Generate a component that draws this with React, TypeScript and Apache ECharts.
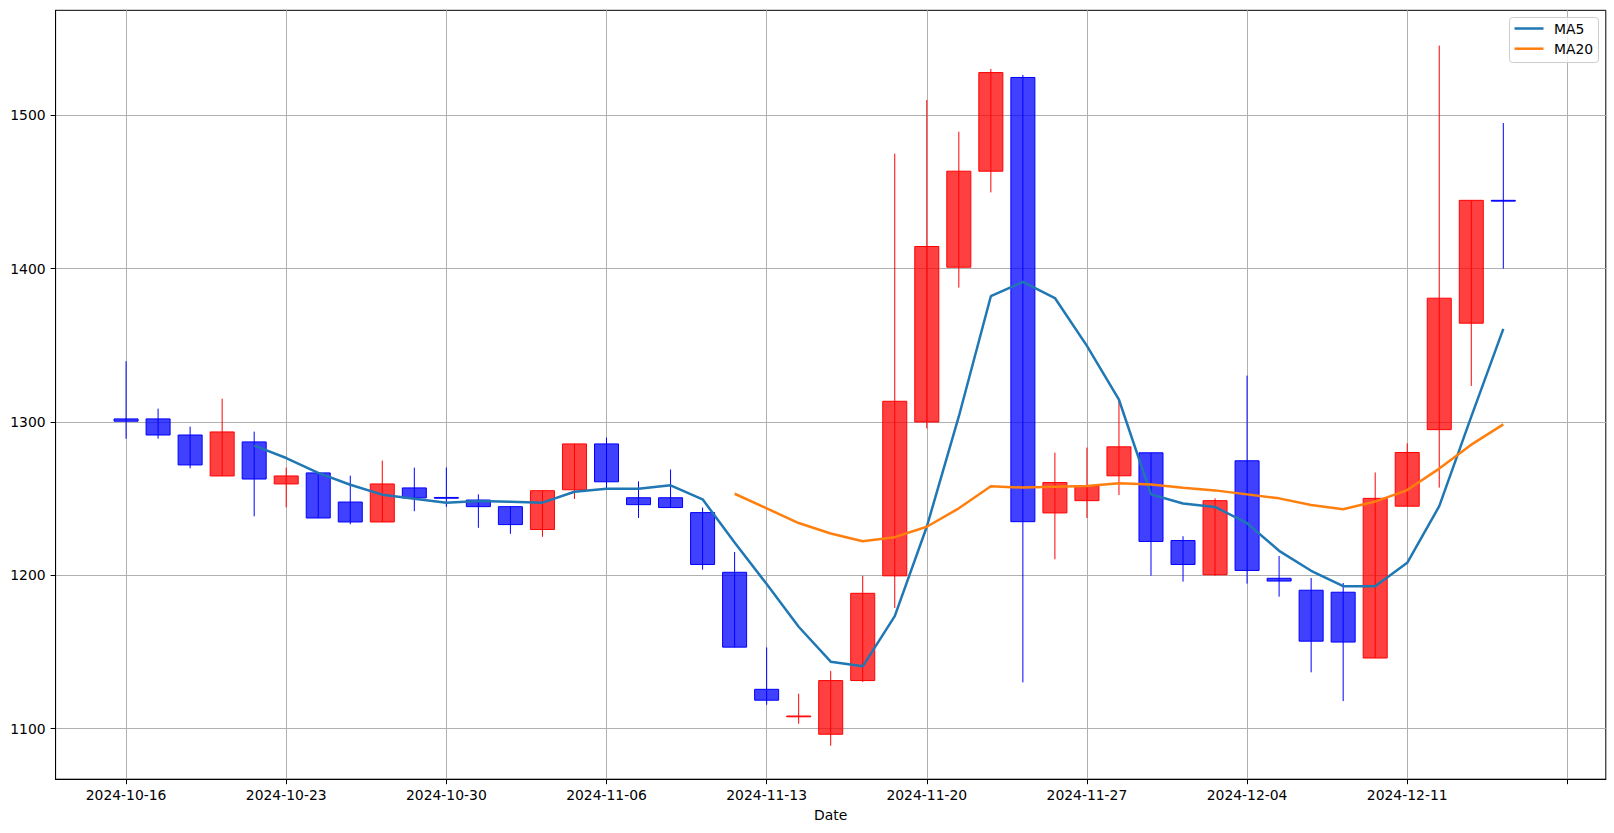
import React, { useEffect, useRef } from "react";
import * as echarts from "echarts";

const dates = [
  "2024-10-16", "2024-10-17", "2024-10-18", "2024-10-21", "2024-10-22",
  "2024-10-23", "2024-10-24", "2024-10-25", "2024-10-28", "2024-10-29",
  "2024-10-30", "2024-10-31", "2024-11-01", "2024-11-04", "2024-11-05",
  "2024-11-06", "2024-11-07", "2024-11-08", "2024-11-11", "2024-11-12",
  "2024-11-13", "2024-11-14", "2024-11-15", "2024-11-18", "2024-11-19",
  "2024-11-20", "2024-11-21", "2024-11-22", "2024-11-25", "2024-11-26",
  "2024-11-27", "2024-11-28", "2024-11-29", "2024-12-02", "2024-12-03",
  "2024-12-04", "2024-12-05", "2024-12-06", "2024-12-09", "2024-12-10",
  "2024-12-11", "2024-12-12", "2024-12-13", "2024-12-16",
];

const opens = [
  1302.0, 1302.0, 1291.5, 1264.8, 1287.0, 1259.6, 1266.8, 1247.8, 1234.8, 1257.0,
  1250.8, 1249.1, 1244.8, 1229.9, 1255.8, 1285.7, 1250.6, 1250.6, 1240.9, 1202.0,
  1125.7, 1107.9, 1096.4, 1131.4, 1199.7, 1300.0, 1400.9, 1463.5, 1524.6, 1240.7,
  1248.7, 1264.9, 1279.9, 1222.7, 1200.4, 1274.7, 1198.1, 1190.3, 1189.0, 1146.1,
  1245.1, 1295.0, 1364.4, 1444.5,
];
const closes = [
  1300.5, 1291.5, 1272.0, 1293.5, 1262.8, 1264.8, 1237.4, 1234.8, 1259.6, 1250.5,
  1250.4, 1244.8, 1233.1, 1255.2, 1285.7, 1261.0, 1246.1, 1244.2, 1207.1, 1153.2,
  1118.6, 1108.3, 1131.4, 1188.3, 1313.5, 1414.4, 1463.5, 1527.8, 1235.0, 1260.5,
  1258.2, 1283.8, 1222.1, 1207.1, 1248.7, 1203.2, 1196.3, 1157.1, 1156.5, 1250.2,
  1280.1, 1380.7, 1444.5, 1444.2,
];
const highs = [
  1339.6, 1308.7, 1297.0, 1315.2, 1293.7, 1270.2, 1266.8, 1265.0, 1274.8, 1270.2,
  1270.3, 1252.8, 1244.8, 1255.2, 1285.7, 1289.8, 1261.3, 1269.0, 1244.2, 1215.2,
  1153.0, 1122.8, 1137.7, 1199.7, 1474.9, 1509.9, 1489.2, 1530.2, 1526.3, 1280.0,
  1283.3, 1313.6, 1279.9, 1225.5, 1250.2, 1330.2, 1212.6, 1198.3, 1195.0, 1267.1,
  1286.0, 1545.4, 1444.5, 1494.9,
];
const lows = [
  1289.1, 1289.1, 1269.8, 1264.8, 1238.5, 1244.4, 1237.4, 1233.3, 1234.8, 1241.8,
  1244.6, 1231.0, 1227.1, 1225.1, 1249.8, 1255.8, 1237.4, 1244.2, 1203.7, 1153.2,
  1115.6, 1103.3, 1088.9, 1130.5, 1178.7, 1295.8, 1387.6, 1449.7, 1130.2, 1210.5,
  1237.4, 1252.4, 1199.8, 1195.9, 1199.8, 1194.6, 1186.1, 1136.8, 1118.0, 1146.1,
  1245.1, 1257.2, 1323.5, 1400.0,
];

const ma5 = [
  null, null, null, null, 1284.6, 1276.5, 1266.8, 1259.1, 1252.6, 1250.0,
  1247.4, 1248.5, 1248.0, 1247.4, 1254.5, 1256.5, 1256.5, 1258.7, 1249.6, 1221.4,
  1194.3, 1166.5, 1143.7, 1140.7, 1173.4, 1231.7, 1303.6, 1382.0, 1391.3, 1380.8,
  1349.6, 1314.5, 1252.8, 1246.8, 1244.6, 1234.0, 1216.0, 1203.0, 1192.9, 1192.9,
  1208.2, 1245.1, 1303.5, 1360.7,
];
const ma20 = [
  null, null, null, null, null, null, null, null, null, null,
  null, null, null, null, null, null, null, null, null, 1253.2,
  1243.7, 1234.1, 1227.3, 1222.2, 1224.9, 1231.7, 1243.7, 1258.1, 1257.2, 1257.8,
  1258.2, 1260.0, 1259.3, 1257.1, 1255.4, 1252.8, 1250.2, 1245.9, 1243.1, 1248.1,
  1255.6, 1269.6, 1285.2, 1298.4,
];

const xTickIndexes = [0, 5, 10, 15, 20, 25, 30, 35, 40, 45];
const yTickValues = [1100, 1200, 1300, 1400, 1500];

const FONT = "DejaVu Sans";

export default function App() {
  const ref = useRef<HTMLDivElement>(null);
  useEffect(() => {
    if (!ref.current) return;
    const chart = echarts.init(ref.current, null, { renderer: "svg" });
    const candleData = dates.map((_, i) => [i, opens[i], closes[i], lows[i], highs[i]]);
    const ma5Data = ma5.map((v, i) => [i, v]).filter((p) => p[1] != null);
    const ma20Data = ma20.map((v, i) => [i, v]).filter((p) => p[1] != null);

    chart.setOption({
      animation: false,
      backgroundColor: "#ffffff",
      grid: {
        left: 55.6,
        right: 8.2,
        top: 10.3,
        bottom: 53.8,
        containLabel: false,
        outerBoundsMode: "none",
        show: true,
        borderColor: "#000000",
        borderWidth: 1,
      },
      xAxis: {
        type: "value",
        min: -2.2,
        max: 46.2,
        name: "Date",
        nameLocation: "middle",
        nameGap: 29,
        nameTextStyle: { color: "#000", fontSize: 13.9, fontFamily: FONT },
        axisLine: { show: true, onZero: false, lineStyle: { color: "#000", width: 1 } },
        axisTick: {
          show: true,
          customValues: xTickIndexes,
          length: 5,
          inside: false,
          lineStyle: { color: "#000", width: 1 },
        },
        axisLabel: {
          customValues: xTickIndexes,
          formatter: (v: number) => dates[Math.round(v)] ?? "",
          color: "#000",
          fontSize: 13.9,
          fontFamily: FONT,
          margin: 9,
        },
        splitLine: { show: true, lineStyle: { color: "#b0b0b0", width: 1 } },
      },
      yAxis: {
        type: "value",
        min: 1067.1,
        max: 1568.4,
        axisLine: { show: true, onZero: false, lineStyle: { color: "#000", width: 1 } },
        axisTick: {
          show: true,
          customValues: yTickValues,
          length: 5,
          lineStyle: { color: "#000", width: 1 },
        },
        axisLabel: {
          customValues: yTickValues,
          formatter: (v: number) => String(Math.round(v)),
          color: "#000",
          fontSize: 13.9,
          fontFamily: FONT,
          margin: 10,
        },
        splitLine: { show: true, lineStyle: { color: "#b0b0b0", width: 1 } },
      },
      series: [
        {
          type: "custom",
          name: "OHLC",
          data: candleData,
          encode: { x: 0, y: [1, 2, 3, 4] },
          clip: true,
          z: 2,
          renderItem: (params: any, api: any) => {
            const i = api.value(0);
            const o = api.value(1);
            const c = api.value(2);
            const l = api.value(3);
            const h = api.value(4);
            const up = c >= o;
            const stroke = up ? "#ff0000" : "#0000ff";
            const fill = up ? "rgba(255,0,0,0.75)" : "rgba(0,0,255,0.75)";
            const pTop = api.coord([i, Math.max(o, c)]);
            const pBot = api.coord([i, Math.min(o, c)]);
            const pH = api.coord([i, h]);
            const pL = api.coord([i, l]);
            const w = api.size([0.75, 0])[0];
            const hgt = Math.max(pBot[1] - pTop[1], 0.8);
            return {
              type: "group",
              children: [
                {
                  type: "line",
                  shape: { x1: pH[0], y1: pH[1], x2: pL[0], y2: pL[1] },
                  style: { stroke, lineWidth: 1 },
                },
                {
                  type: "rect",
                  shape: { x: pTop[0] - w / 2, y: pTop[1], width: w, height: hgt },
                  style: { fill, stroke, lineWidth: 1 },
                },
              ],
            };
          },
        },
        {
          type: "line",
          name: "MA5",
          data: ma5Data,
          symbol: "none",
          showSymbol: false,
          z: 3,
          lineStyle: { color: "#1f77b4", width: 2.5 },
          itemStyle: { color: "#1f77b4" },
        },
        {
          type: "line",
          name: "MA20",
          data: ma20Data,
          symbol: "none",
          showSymbol: false,
          z: 3,
          lineStyle: { color: "#ff7f0e", width: 2.5 },
          itemStyle: { color: "#ff7f0e" },
        },
      ],
      graphic: [
        {
          type: "rect",
          z: 100,
          shape: { x: 1509.5, y: 17.5, width: 89, height: 45, r: 3 },
          style: { fill: "rgba(255,255,255,0.8)", stroke: "#cccccc", lineWidth: 1 },
        },
        {
          type: "line",
          z: 101,
          shape: { x1: 1514.5, y1: 28.5, x2: 1543.5, y2: 28.5 },
          style: { stroke: "#1f77b4", lineWidth: 2.5 },
        },
        {
          type: "text",
          z: 101,
          x: 1554,
          y: 28.5,
          style: { text: "MA5", fontSize: 13.9, fontFamily: FONT, fill: "#000", verticalAlign: "middle" },
        },
        {
          type: "line",
          z: 101,
          shape: { x1: 1514.5, y1: 48.7, x2: 1543.5, y2: 48.7 },
          style: { stroke: "#ff7f0e", lineWidth: 2.5 },
        },
        {
          type: "text",
          z: 101,
          x: 1554,
          y: 48.7,
          style: { text: "MA20", fontSize: 13.9, fontFamily: FONT, fill: "#000", verticalAlign: "middle" },
        },
      ],
    });
    return () => chart.dispose();
  }, []);
  return (
    <div
      ref={ref}
      style={{ position: "absolute", left: 0, top: 0, width: 1614, height: 833 }}
    />
  );
}
